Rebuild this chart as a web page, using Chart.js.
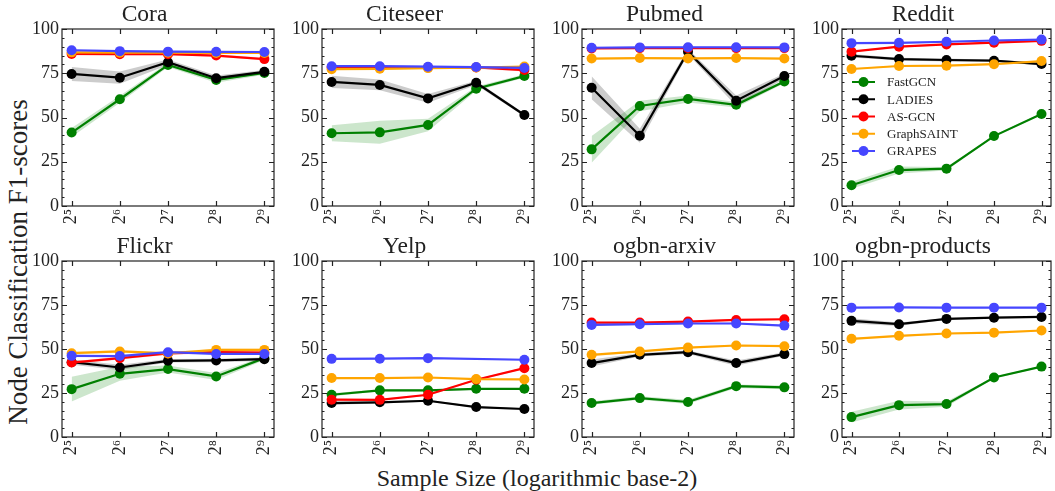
<!DOCTYPE html>
<html>
<head>
<meta charset="utf-8">
<script src="https://cdn.jsdelivr.net/npm/chart.js@4.4.1/dist/chart.umd.min.js"></script>
<style>
  body { margin: 0; background: #fff; width: 1055px; height: 491px; overflow: hidden; position: relative; }
  canvas { position: absolute; }
  .lbl { position: absolute; font-family: 'Liberation Serif', 'DejaVu Serif', serif; color: #222; white-space: nowrap; }
</style>
</head>
<body>
<div class="lbl" id="ylab" style="left:18px; top:262px; font-size:27px; transform: translate(-50%,-50%) rotate(-90deg);">Node Classification F1-scores</div>
<div class="lbl" id="xlab" style="left:537px; top:478px; font-size:24px; transform: translate(-50%,-50%);">Sample Size (logarithmic base-2)</div>
<script>
const sampleExps = [5, 6, 7, 8, 9];
const tickLabels = ['2⁵', '2⁶', '2⁷', '2⁸', '2⁹'];
const yTicks = [0, 25, 50, 75, 100];
const methods = ['FastGCN', 'LADIES', 'AS-GCN', 'GraphSAINT', 'GRAPES'];
const colors = ['#008000', '#000000', '#ff0000', '#ffa500', '#4646ff'];
const bandColors = ['rgba(0,128,0,0.2)', 'rgba(0,0,0,0.2)', 'rgba(255,0,0,0.2)', 'rgba(255,165,0,0.2)', 'rgba(70,70,255,0.2)'];
const panelTitles = ['Cora', 'Citeseer', 'Pubmed', 'Reddit', 'Flickr', 'Yelp', 'ogbn-arxiv', 'ogbn-products'];

// rows: FastGCN, LADIES, AS-GCN, GraphSAINT, GRAPES
const coraMeans = [
  [41.5, 60.3, 79.7, 71.2, 75.2],
  [74.6, 72.5, 81.2, 72.2, 75.8],
  [85.9, 85.8, 85.8, 85.0, 83.0],
  [86.8, 86.6, 86.6, 86.5, 86.5],
  [88.0, 87.5, 87.2, 87.1, 87.0]];
const coraStds = [
  [2.5, 2, 1.2, 1.5, 1], [4, 3.5, 1.5, 1.5, 1], [0.7, 0.7, 0.7, 0.7, 0.7], [0.5, 0.5, 0.5, 0.5, 0.5], [0.5, 0.5, 0.5, 0.5, 0.5]];

const citeseerMeans = [
  [41.1, 41.6, 45.8, 66.3, 73.4],
  [70.1, 68.4, 60.8, 69.6, 51.4],
  [78.3, 78.3, 78.3, 78.3, 76.8],
  [77.3, 77.5, 77.9, 78.2, 78.8],
  [79.0, 79.0, 78.7, 78.5, 78.0]];
const citeseerStds = [
  [4.5, 6.5, 3.5, 1.2, 1], [3.5, 3, 2.5, 1.2, 0.8], [0.8, 0.8, 0.8, 0.8, 0.8], [0.5, 0.5, 0.5, 0.5, 0.5], [0.5, 0.5, 0.5, 0.5, 0.5]];

const pubmedMeans = [
  [32.0, 56.5, 60.5, 57.2, 70.3],
  [66.8, 39.7, 87.2, 59.5, 73.4],
  [89.0, 89.2, 89.2, 89.2, 89.2],
  [83.3, 83.6, 83.4, 83.6, 83.3],
  [89.4, 89.6, 89.7, 89.7, 89.6]];
const pubmedStds = [
  [7.5, 3, 2, 1.5, 1], [6.5, 4, 1.5, 3, 1.5], [0.4, 0.4, 0.4, 0.4, 0.4], [0.4, 0.4, 0.4, 0.4, 0.4], [0.4, 0.4, 0.4, 0.4, 0.4]];

const redditMeans = [
  [11.7, 20.3, 21.1, 39.5, 52.0],
  [84.9, 83.0, 82.5, 82.1, 80.2],
  [87.2, 90.0, 91.3, 92.3, 93.3],
  [77.4, 79.1, 79.3, 80.1, 81.9],
  [92.0, 92.2, 92.8, 93.5, 94.0]];
const redditStds = [
  [2, 2, 1, 0.5, 0.5], [1, 0.8, 0.8, 0.5, 0.8], [0.5, 0.5, 0.5, 0.5, 0.5], [0.4, 0.4, 0.4, 0.4, 0.4], [0.4, 0.4, 0.4, 0.4, 0.4]];

const flickrMeans = [
  [27.2, 35.9, 38.6, 34.4, 44.8],
  [42.5, 39.5, 43.3, 43.5, 44.2],
  [42.3, 44.8, 47.5, 48.3, 48.0],
  [47.6, 48.6, 47.5, 49.5, 49.5],
  [46.1, 46.0, 48.2, 47.2, 47.2]];
const flickrStds = [
  [7, 4, 2, 2, 1], [1.5, 1.5, 1, 1, 1], [0.8, 0.8, 0.8, 0.8, 0.8], [0.8, 0.8, 0.8, 0.8, 0.8], [0.6, 0.6, 0.6, 0.6, 0.6]];

const yelpMeans = [
  [24.0, 26.5, 26.5, 27.4, 27.4],
  [19.3, 19.7, 20.6, 17.0, 15.9],
  [21.2, 21.1, 24.0, 32.5, 39.1],
  [33.5, 33.5, 33.8, 32.9, 32.7],
  [44.4, 44.5, 44.8, null, 43.9]];
const yelpStds = [
  [0.8, 0.6, 0.6, 0.5, 0.5], [1, 0.6, 0.6, 0.5, 0.5], [0.5, 0.5, 0.5, 0.5, 0.5], [0.4, 0.4, 0.4, 0.4, 0.4], [0.4, 0.4, 0.4, 0, 0.4]];

const arxivMeans = [
  [19.3, 22.1, 19.9, 28.9, 28.2],
  [42.0, 46.7, 48.2, 42.0, 47.1],
  [65.0, 65.0, 65.6, 66.5, 66.9],
  [46.7, 48.6, 50.8, 52.0, 51.6],
  [63.7, 64.1, 64.5, 64.5, 63.3]];
const arxivStds = [
  [1, 1, 1.2, 1, 1], [2, 1, 1, 1.5, 1], [0.5, 0.5, 0.5, 0.5, 0.5], [0.8, 0.6, 0.5, 0.5, 0.5], [0.6, 0.5, 0.5, 0.5, 0.6]];

const productsMeans = [
  [11.3, 18.1, 18.7, 33.8, 40.0],
  [66.0, 64.1, 67.1, 67.8, 68.2],
  [null, null, null, null, null],
  [55.8, 57.5, 58.8, 59.3, 60.5],
  [73.5, 73.6, 73.5, 73.5, 73.5]];
const productsStds = [
  [3, 2.5, 1.5, 0.5, 0.5], [1.5, 1, 0.5, 0.5, 0.5], [0, 0, 0, 0, 0], [0.5, 0.5, 0.5, 0.5, 0.5], [0.3, 0.3, 0.3, 0.3, 0.3]];

const allMeans = [coraMeans, citeseerMeans, pubmedMeans, redditMeans, flickrMeans, yelpMeans, arxivMeans, productsMeans];
const allStds = [coraStds, citeseerStds, pubmedStds, redditStds, flickrStds, yelpStds, arxivStds, productsStds];

// plot-area placement of each panel (px)
const colLeft = [62, 322, 582, 842];
const colRight = [277, 537, 797, 1054];
const rowTop = [29, 261];
const rowBottom = [206, 437];
const TITLE_H = 28, YAXIS_W = 50, XAXIS_H = 32;
const FONT = "'Liberation Serif', 'DejaVu Serif', serif";
const INK = '#222';

const frameTicks = {
  id: 'frameTicks',
  afterDraw(chart) {
    const ctx = chart.ctx, a = chart.chartArea, x = chart.scales.x, y = chart.scales.y;
    ctx.save();
    ctx.strokeStyle = INK;
    ctx.lineWidth = 1.2;
    ctx.strokeRect(a.left, a.top, a.right - a.left, a.bottom - a.top);
    ctx.beginPath();
    for (let v = 0; v <= 100; v += 5) {
      const py = Math.round(y.getPixelForValue(v)) + 0.5;
      const len = v % 25 === 0 ? 5 : 2.5;
      ctx.moveTo(a.left, py); ctx.lineTo(a.left + len, py);
      ctx.moveTo(a.right, py); ctx.lineTo(a.right - len, py);
    }
    sampleExps.forEach(e => {
      const px = Math.round(x.getPixelForValue(e)) + 0.5;
      ctx.moveTo(px, a.bottom); ctx.lineTo(px, a.bottom - 5);
      ctx.moveTo(px, a.top); ctx.lineTo(px, a.top + 5);
    });
    ctx.stroke();
    ctx.restore();
  }
};

const insideLegend = {
  id: 'insideLegend',
  afterDraw(chart) {
    const ctx = chart.ctx, a = chart.chartArea;
    ctx.save();
    ctx.font = '13px ' + FONT;
    ctx.textBaseline = 'middle';
    methods.forEach((m, i) => {
      const cy = a.top + 53 + i * 17.25;
      ctx.strokeStyle = colors[i];
      ctx.lineWidth = 2;
      ctx.beginPath();
      ctx.moveTo(a.left + 10, cy); ctx.lineTo(a.left + 33, cy);
      ctx.stroke();
      ctx.fillStyle = colors[i];
      ctx.beginPath();
      ctx.arc(a.left + 21.5, cy, 5, 0, Math.PI * 2);
      ctx.fill();
      ctx.fillStyle = INK;
      ctx.fillText(m, a.left + 45, cy + 1);
    });
    ctx.restore();
  }
};

function buildDatasets(means, stds) {
  const sets = [];
  methods.forEach((m, i) => {
    const lower = means[i].map((v, k) => ({ x: sampleExps[k], y: v === null ? null : v - stds[i][k] }));
    const upper = means[i].map((v, k) => ({ x: sampleExps[k], y: v === null ? null : v + stds[i][k] }));
    sets.push({ label: m + ' low', data: lower, borderWidth: 0, pointRadius: 0, fill: false, order: 10, spanGaps: true });
    sets.push({ label: m + ' high', data: upper, borderWidth: 0, pointRadius: 0, fill: '-1', backgroundColor: bandColors[i], order: 10, spanGaps: true });
    sets.push({
      label: m,
      data: means[i].map((v, k) => ({ x: sampleExps[k], y: v })),
      borderColor: colors[i],
      backgroundColor: colors[i],
      borderWidth: 2.2,
      pointRadius: 5,
      pointBorderWidth: 0,
      pointBackgroundColor: colors[i],
      fill: false,
      spanGaps: true,
      order: 5 - i
    });
  });
  return sets;
}

panelTitles.forEach((title, p) => {
  const col = p % 4, row = Math.floor(p / 4);
  const L = colLeft[col], R = colRight[col], T = rowTop[row], B = rowBottom[row];
  const cv = document.createElement('canvas');
  const w = YAXIS_W + (R - L) + 2, h = TITLE_H + (B - T) + XAXIS_H;
  cv.width = w; cv.height = h;
  cv.style.left = (L - YAXIS_W) + 'px';
  cv.style.top = (T - TITLE_H) + 'px';
  cv.style.width = w + 'px'; cv.style.height = h + 'px';
  document.body.appendChild(cv);

  new Chart(cv.getContext('2d'), {
    type: 'line',
    data: { datasets: buildDatasets(allMeans[p], allStds[p]) },
    options: {
      responsive: false,
      animation: false,
      devicePixelRatio: 1,
      layout: { padding: { left: 0, right: 2, top: 0, bottom: 0 } },
      plugins: {
        legend: { display: false },
        tooltip: { enabled: false },
        title: {
          display: true, text: title, color: INK,
          font: { family: FONT, size: 23.5, weight: 'normal', lineHeight: '26px' },
          padding: { top: 1, bottom: 1 }
        }
      },
      scales: {
        x: {
          type: 'linear', min: 4.8, max: 9.2,
          grid: { display: false, drawTicks: false },
          border: { display: false },
          afterBuildTicks: s => { s.ticks = sampleExps.map(v => ({ value: v })); },
          afterFit: s => { s.height = XAXIS_H; s.paddingLeft = 0; s.paddingRight = 0; },
          ticks: {
            autoSkip: false, minRotation: 90, maxRotation: 90, padding: 3,
            color: INK, font: { family: FONT, size: 18 },
            callback: v => tickLabels[sampleExps.indexOf(v)]
          }
        },
        y: {
          min: 0, max: 100,
          grid: { display: false, drawTicks: false },
          border: { display: false },
          afterBuildTicks: s => { s.ticks = yTicks.map(v => ({ value: v })); },
          afterFit: s => { s.width = YAXIS_W; s.paddingTop = 0; s.paddingBottom = 0; },
          ticks: { padding: 3, color: INK, font: { family: FONT, size: 18 } }
        }
      }
    },
    plugins: p === 3 ? [frameTicks, insideLegend] : [frameTicks]
  });
});
</script>
</body>
</html>
